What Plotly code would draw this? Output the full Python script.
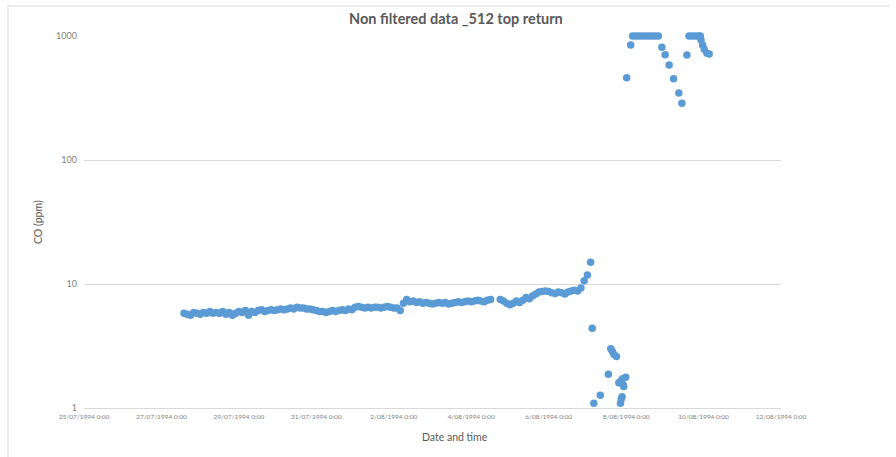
import pandas as pd
import plotly.graph_objects as go

# ---- data -------------------------------------------------------------
# Regular 2-hourly CO readings (ppm), first run
run1_start = "1994-07-27 14:00"
run1_values = [
    5.8, 5.7, 5.6, 5.9, 5.8, 5.7, 5.9, 5.8, 6.0, 5.8,
    5.9, 5.8, 6.0, 5.7, 5.9, 5.6, 5.8, 6.0, 5.9, 6.1,
    5.6, 6.0, 5.9, 6.1, 6.2, 6.0, 6.1, 6.2, 6.1, 6.2,
    6.3, 6.2, 6.3, 6.4, 6.3, 6.5, 6.4, 6.4, 6.3, 6.3,
    6.2, 6.1, 6.0, 6.0, 5.9, 6.0, 6.1, 6.0, 6.1, 6.2,
    6.1, 6.3, 6.2, 6.5, 6.6, 6.5, 6.4, 6.5, 6.4, 6.5,
    6.5, 6.4, 6.5, 6.6, 6.5, 6.4, 6.4, 6.1, 7.0, 7.5,
    7.2, 7.3, 7.1, 7.2, 7.0, 7.1, 7.0, 6.9, 7.0, 7.1,
    7.0, 7.1, 6.9, 7.0, 7.1, 7.2, 7.1, 7.2, 7.3, 7.2,
    7.3, 7.4, 7.3, 7.2, 7.4, 7.5,
]

# Regular 2-hourly CO readings (ppm), second run
run2_start = "1994-08-04 18:00"
run2_values = [
    7.5, 7.3, 7.0, 6.8, 7.0, 7.3, 7.1, 7.4, 7.8, 7.6,
    8.0, 8.3, 8.6, 8.7, 8.8, 8.7, 8.5, 8.4, 8.6, 8.5,
    8.3, 8.6, 8.8, 8.9, 8.8, 9.3, 10.6, 11.8, 15.0,
]
sample_step = "2h"

# Irregular readings after the second run
late_times = [
    "1994-08-07 03:00", "1994-08-07 04:00", "1994-08-07 08:00", "1994-08-07 13:00",
    "1994-08-07 14:30", "1994-08-07 15:30", "1994-08-07 16:30", "1994-08-07 18:00",
    "1994-08-07 19:30", "1994-08-07 20:30", "1994-08-07 20:45", "1994-08-07 21:00",
    "1994-08-07 21:30", "1994-08-07 21:45", "1994-08-07 22:15", "1994-08-07 22:30",
    "1994-08-07 23:45",
    "1994-08-08 00:20", "1994-08-08 02:50",
    "1994-08-08 04:00", "1994-08-08 06:00", "1994-08-08 08:00", "1994-08-08 10:00",
    "1994-08-08 12:00", "1994-08-08 14:00", "1994-08-08 16:00", "1994-08-08 18:00",
    "1994-08-08 20:00",
    "1994-08-08 22:10", "1994-08-09 00:10", "1994-08-09 02:40", "1994-08-09 05:25",
    "1994-08-09 08:40", "1994-08-09 10:35", "1994-08-09 13:40",
    "1994-08-09 15:00", "1994-08-09 17:00", "1994-08-09 19:00", "1994-08-09 21:00",
    "1994-08-09 22:00",
    "1994-08-09 22:25", "1994-08-09 23:25", "1994-08-10 00:25", "1994-08-10 02:05",
    "1994-08-10 03:30",
]
late_values = [
    4.4, 1.09, 1.27, 1.87,
    3.0, 2.85, 2.7, 2.6,
    1.6, 1.09, 1.65, 1.18,
    1.23, 1.72, 1.53, 1.49,
    1.77,
    461, 846,
    1000, 1000, 1000, 1000,
    1000, 1000, 1000, 1000,
    1000,
    811, 706, 584, 453,
    347, 287, 703,
    1000, 1000, 1000, 1000,
    1000,
    929, 846, 781, 725,
    716,
]

# Axis ticks
x_tick_dates = [
    "1994-07-25", "1994-07-27", "1994-07-29", "1994-07-31", "1994-08-02",
    "1994-08-04", "1994-08-06", "1994-08-08", "1994-08-10", "1994-08-12",
]
x_tick_labels = [
    "25/07/1994 0:00", "27/07/1994 0:00", "29/07/1994 0:00", "31/07/1994 0:00",
    "2/08/1994 0:00", "4/08/1994 0:00", "6/08/1994 0:00", "8/08/1994 0:00",
    "10/08/1994 0:00", "12/08/1994 0:00",
]
y_tick_values = [1, 10, 100, 1000]
y_tick_labels = ["1", "10", "100", "1000"]

# ---- assemble series --------------------------------------------------
run1_times = pd.date_range(run1_start, periods=len(run1_values), freq=sample_step)
run2_times = pd.date_range(run2_start, periods=len(run2_values), freq=sample_step)
times = list(run1_times) + list(run2_times) + list(pd.to_datetime(late_times))
values = run1_values + run2_values + late_values

BLUE = "#5B9BD5"
GRID = "#D9D9D9"
TEXT = "#595959"
TICK = "#7F7F7F"
FONT = "Lato"

fig = go.Figure(
    go.Scatter(
        x=times,
        y=values,
        mode="markers",
        marker=dict(color=BLUE, size=7.5, line=dict(width=0)),
        cliponaxis=False,
        showlegend=False,
    )
)

fig.update_layout(
    width=896,
    height=457,
    margin=dict(l=84, r=115, t=36, b=49),
    paper_bgcolor="white",
    plot_bgcolor="white",
    font=dict(family=FONT, color=TICK),
    xaxis=dict(
        range=[x_tick_dates[0], x_tick_dates[-1]],
        tickvals=x_tick_dates,
        ticktext=x_tick_labels,
        tickfont=dict(size=6.5, color=TICK),
        showgrid=False,
        showline=True,
        linecolor=GRID,
        linewidth=1,
        zeroline=False,
        ticks="",
        ticklabelstandoff=2,
    ),
    yaxis=dict(
        type="log",
        range=[0, 3],
        tickvals=y_tick_values,
        ticktext=y_tick_labels,
        tickfont=dict(size=9, color=TICK),
        showgrid=True,
        gridcolor=GRID,
        gridwidth=1,
        showline=False,
        zeroline=False,
        ticks="",
        ticklabelstandoff=6,
    ),
    annotations=[
        dict(
            text="<b>Non filtered data _512 top return</b>",
            xref="paper", yref="paper",
            x=(456 - 84) / 697, y=1 + (36 - 18) / 372,
            xanchor="center", yanchor="middle",
            showarrow=False,
            font=dict(family=FONT, size=14.5, color=TEXT),
        ),
        dict(
            text="Date and time",
            xref="paper", yref="paper",
            x=(455 - 84) / 697, y=1 - (437 - 36) / 372,
            xanchor="center", yanchor="middle",
            showarrow=False,
            font=dict(family=FONT, size=10.5, color=TEXT),
        ),
        dict(
            text="CO (ppm)",
            xref="paper", yref="paper",
            x=(38 - 84) / 697, y=1 - (222 - 36) / 372,
            xanchor="center", yanchor="middle",
            textangle=-90,
            showarrow=False,
            font=dict(family=FONT, size=10.5, color=TEXT),
        ),
    ],
    shapes=[
        # chart frame: top and left edges
        dict(type="line", xref="paper", yref="paper",
             x0=(8 - 84) / 697, x1=(890 - 84) / 697,
             y0=1 + (36 - 6) / 372, y1=1 + (36 - 6) / 372,
             line=dict(color=GRID, width=1)),
        dict(type="line", xref="paper", yref="paper",
             x0=(8 - 84) / 697, x1=(8 - 84) / 697,
             y0=1 + (36 - 6) / 372, y1=1 - (457 - 36) / 372,
             line=dict(color=GRID, width=1)),
    ],
)

fig.write_html("out.html")
